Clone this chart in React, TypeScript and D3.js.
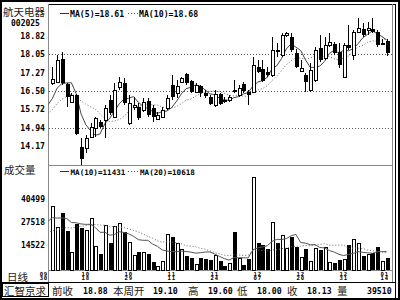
import React from "react";
import * as d3 from "d3";

const stockName = "航天电器";
const stockCode = "002025";
const volTitle = "成交量";
const periodLabel = "日线";
const brandLabel = "汇智京求";

const opens = [16.82, 16.89, 17.85, 16.79, 16.04, 16.33, 14.13, 14.06, 14.55, 14.91, 15.19, 15.26, 16.11, 15.40, 16.68, 16.82, 15.12, 15.83, 15.80, 15.69, 16.08, 15.76, 15.29, 15.40, 15.76, 16.75, 16.40, 16.89, 17.21, 16.94, 16.47, 16.71, 16.40, 16.23, 15.90, 16.37, 16.11, 16.11, 16.54, 16.33, 16.79, 16.47, 16.47, 17.50, 17.42, 17.32, 17.18, 18.24, 18.03, 18.88, 18.81, 18.10, 17.36, 17.18, 16.54, 16.96, 18.31, 17.89, 18.45, 18.48, 18.17, 17.11, 18.45, 18.03, 19.02, 19.12, 19.10, 19.15, 19.02, 18.50, 18.64];
const highs = [17.53, 18.03, 18.16, 16.85, 16.40, 16.37, 14.48, 14.62, 15.12, 15.40, 15.26, 15.90, 16.33, 16.82, 17.11, 17.04, 16.33, 16.26, 15.97, 16.18, 16.18, 15.90, 15.62, 15.80, 16.33, 17.18, 16.96, 17.11, 17.25, 16.96, 16.85, 16.75, 16.54, 16.33, 16.54, 16.43, 16.26, 16.33, 16.96, 16.75, 16.89, 16.54, 17.96, 17.82, 17.82, 17.53, 18.81, 18.53, 18.95, 19.02, 18.95, 18.27, 17.82, 17.25, 17.67, 18.38, 18.88, 18.81, 18.95, 18.60, 18.53, 18.53, 19.31, 19.09, 19.59, 19.38, 19.45, 19.60, 19.10, 18.70, 18.70];
const lows = [16.75, 16.82, 16.75, 15.83, 15.97, 14.62, 13.35, 13.86, 14.48, 14.55, 14.91, 14.48, 15.48, 15.33, 16.54, 15.90, 15.05, 15.69, 15.26, 15.62, 15.40, 15.19, 15.26, 15.33, 15.69, 16.11, 16.18, 16.82, 16.75, 16.40, 16.40, 16.26, 16.18, 15.90, 15.83, 15.90, 15.97, 16.04, 16.40, 16.23, 16.40, 15.90, 16.40, 17.25, 16.89, 17.11, 17.11, 17.96, 17.96, 18.81, 18.17, 17.46, 17.32, 16.47, 16.47, 16.89, 17.75, 17.82, 18.38, 18.03, 17.46, 17.04, 18.24, 17.82, 18.95, 18.81, 18.90, 18.95, 18.38, 18.45, 18.00];
const closes = [17.01, 17.82, 16.82, 16.26, 16.33, 14.67, 13.59, 14.48, 14.98, 15.33, 14.98, 15.79, 15.55, 16.54, 16.89, 16.00, 15.97, 15.90, 15.33, 16.04, 15.48, 15.40, 15.48, 15.69, 16.18, 16.23, 16.71, 17.04, 16.82, 16.47, 16.75, 16.40, 16.28, 15.94, 16.37, 15.94, 16.04, 16.23, 16.47, 16.61, 16.51, 16.33, 17.60, 17.32, 16.94, 17.18, 18.24, 18.17, 18.88, 18.98, 18.24, 17.53, 17.46, 16.89, 17.39, 18.24, 17.82, 18.45, 18.57, 18.10, 17.60, 18.45, 18.31, 19.02, 19.16, 18.88, 19.18, 19.02, 18.45, 18.55, 18.13];
const volumes = [36800, 24900, 32500, 22400, 10700, 26200, 24000, 23000, 29600, 14100, 9200, 25800, 15800, 25500, 27200, 21700, 16400, 8800, 10700, 10300, 9200, 4700, 2700, 5400, 20600, 18900, 15500, 12200, 8200, 6900, 3500, 7300, 6400, 6000, 8800, 5400, 2700, 4000, 21700, 6900, 3100, 6400, 53300, 15800, 14500, 12000, 27700, 15800, 20200, 12600, 19200, 13500, 7500, 12200, 5600, 12600, 11600, 13200, 5000, 4400, 6000, 6500, 14500, 17700, 15800, 8200, 9400, 10200, 13200, 5200, 7000];

// history before the first visible day (for the moving averages)
const prevCloses = [15.25, 15.2, 15.05, 15.1, 15.3, 15.55, 15.6, 15.85, 16.1, 16.3];
const prevVolumes = [15000, 14000, 16500, 13000, 15500, 17000, 14500, 16000, 15000, 16500, 14000, 27000, 31000, 26500, 33000, 28000, 30500, 25500, 29000, 32500];

const priceTicks = [18.82, 18.05, 17.27, 16.5, 15.72, 14.94, 14.17];
const priceGrid = [18.05, 16.5, 14.94];
const volTicks = [40499, 27518, 14522];

const dateIdx = [0, 7, 16, 25, 34, 43, 52, 61, 70];
const dateTop = ["09", "10", "10", "11", "11", "12", "12", "12", "01"];
const dateBot = ["30", "18", "29", "11", "24", "07", "20", "31", "14"];

const priceLegendNames = ["MA(5)", "MA(10)"];
const priceLegendValues = ["18.61", "18.68"];
const volLegendNames = ["MA(10)", "MA(20)"];
const volLegendValues = ["11431", "10618"];

const infoLabels = ["前收", "本周开", "高", "低", "收", "量"];
const infoValues = ["18.88", "19.10", "19.60", "18.00", "18.13", "39510"];

const MONO = "'DejaVu Sans Mono', monospace";
const CJK = "'Noto Sans CJK SC', sans-serif";

function movingAvg(series: number[], prev: number[], k: number): [number, number][] {
  const all = prev.concat(series);
  const out: [number, number][] = [];
  for (let i = -1; i < series.length; i++) {
    const end = i + prev.length + 1;
    out.push([i, d3.mean(all.slice(end - k, end)) as number]);
  }
  return out;
}

export default function App() {
  const W = 400, H = 300;
  const plotL = 48, plotR = 392;
  const priceTop = 4, priceBot = 165, volBot = 270.5;
  const n = closes.length;

  const x = d3.scaleLinear().domain([0, n - 1]).range([52.3, 386.7]);
  const yP = d3.scaleLinear().domain([priceTicks[6], priceTicks[0]]).range([145.7, 36.4]);
  const yV = d3.scaleLinear().domain([0, volTicks[0]]).range([volBot, 199.2]);

  const ma5 = movingAvg(closes, prevCloses, 5);
  const ma10 = movingAvg(closes, prevCloses, 10);
  const vma10 = movingAvg(volumes, prevVolumes, 10);
  const vma20 = movingAvg(volumes, prevVolumes, 20);

  const lineP = d3.line<[number, number]>().x((d) => x(d[0])).y((d) => yP(d[1]));
  const lineV = d3.line<[number, number]>().x((d) => x(d[0])).y((d) => yV(d[1]));

  const infoLabelX = [52, 113, 188, 237, 287, 337];
  const infoValueX = [83, 153, 208, 257, 307, 367];

  return (
    <svg width={W} height={H} style={{ display: "block", position: "absolute", left: 0, top: 0 }}>
      <defs>
        <clipPath id="cp-price">
          <rect x={plotL + 0.5} y={priceTop} width={plotR - plotL - 0.5} height={priceBot - priceTop} />
        </clipPath>
        <clipPath id="cp-vol">
          <rect x={plotL + 0.5} y={priceBot + 1} width={plotR - plotL - 0.5} height={volBot - priceBot - 1} />
        </clipPath>
      </defs>
      <rect x={0} y={0} width={W} height={H} fill="#fff" />

      {/* frame */}
      <rect x={0} y={0} width={W} height={2} fill="#000" />
      <rect x={0} y={0} width={2} height={H} fill="#000" />
      <rect x={0} y={298} width={W} height={2} fill="#000" />
      <rect x={398} y={0} width={2} height={H} fill="#000" />
      <line x1={plotL} x2={395.5} y1={4.5} y2={4.5} stroke="#000" />
      <line x1={395.5} x2={395.5} y1={4} y2={298} stroke="#000" />
      <line x1={plotR + 0.5} x2={plotR + 0.5} y1={4} y2={282} stroke="#888" />
      <line x1={plotL + 0.5} x2={plotL + 0.5} y1={4} y2={282} stroke="#888" />
      <line x1={plotL} x2={plotR} y1={priceBot + 0.5} y2={priceBot + 0.5} stroke="#888" />
      <line x1={plotL} x2={plotR} y1={volBot} y2={volBot} stroke="#888" />
      <line x1={0} x2={395.5} y1={282.5} y2={282.5} stroke="#000" />

      {/* title */}
      <text x={3} y={16} fontFamily={CJK} fontSize={10.5} fill="#222">{stockName}</text>
      <text x={11} y={25.5} fontFamily={MONO} fontWeight="bold" fontSize={8} fill="#000">{stockCode}</text>

      {/* price axis */}
      {priceTicks.map((t) => (
        <text key={t} x={45} y={yP(t) + 3} textAnchor="end" fontFamily={MONO} fontWeight="bold" fontSize={8.2} fill="#000">
          {t.toFixed(2)}
        </text>
      ))}
      {priceGrid.map((t) => (
        <line key={t} x1={plotL + 1} x2={plotR} y1={Math.round(yP(t)) + 0.5} y2={Math.round(yP(t)) + 0.5}
          stroke="#555" strokeDasharray="1,2" />
      ))}

      {/* price legend */}
      <line x1={60} x2={69} y1={13.5} y2={13.5} stroke="#333" />
      <text x={70} y={16.5} fontFamily={MONO} fontWeight="bold" fontSize={8.2} fill="#000">
        {priceLegendNames[0] + "=" + priceLegendValues[0]}
      </text>
      <line x1={128} x2={138} y1={13.5} y2={13.5} stroke="#555" strokeDasharray="1,2" />
      <text x={139} y={16.5} fontFamily={MONO} fontWeight="bold" fontSize={8.2} fill="#000">
        {priceLegendNames[1] + "=" + priceLegendValues[1]}
      </text>

      {/* MA lines price */}
      <g clipPath="url(#cp-price)" fill="none">
        <path d={lineP(ma10) || ""} stroke="#666" strokeDasharray="1,2" />
        <path d={lineP(ma5) || ""} stroke="#444" />
      </g>

      {/* candles */}
      <g shapeRendering="crispEdges">
        {closes.map((c, i) => {
          const o = opens[i];
          const cx = Math.round(x(i));
          const up = c >= o;
          const top = Math.round(yP(Math.max(o, c)));
          const bot = Math.round(yP(Math.min(o, c)));
          return (
            <g key={i}>
              <line x1={cx + 0.5} x2={cx + 0.5} y1={yP(highs[i])} y2={yP(lows[i])} stroke="#000" />
              {up ? (
                <rect x={cx - 0.5} y={top + 0.5} width={3} height={Math.max(1, bot - top)} fill="#fff" stroke="#000" />
              ) : (
                <rect x={cx - 1} y={top} width={4} height={Math.max(1, bot - top)} fill="#000" />
              )}
            </g>
          );
        })}
      </g>

      {/* volume panel */}
      <text x={4} y={174} fontFamily={CJK} fontSize={10.5} fill="#222">{volTitle}</text>
      {volTicks.map((t) => (
        <text key={t} x={45} y={yV(t) + 3} textAnchor="end" fontFamily={MONO} fontWeight="bold" fontSize={8} fill="#000">
          {t}
        </text>
      ))}
      <line x1={60} x2={69} y1={171.5} y2={171.5} stroke="#333" />
      <text x={70.5} y={174.5} fontFamily={MONO} fontWeight="bold" fontSize={7.6} fill="#000">
        {volLegendNames[0] + "=" + volLegendValues[0]}
      </text>
      <line x1={128} x2={139} y1={171.5} y2={171.5} stroke="#555" strokeDasharray="1,2" />
      <text x={140} y={174.5} fontFamily={MONO} fontWeight="bold" fontSize={7.6} fill="#000">
        {volLegendNames[1] + "=" + volLegendValues[1]}
      </text>

      <g shapeRendering="crispEdges">
        {volumes.map((v, i) => {
          const cx = Math.round(x(i));
          const up = closes[i] >= opens[i];
          const top = Math.round(yV(v));
          const base = Math.floor(volBot);
          return up ? (
            <rect key={i} x={cx - 0.5} y={top + 0.5} width={3} height={base - top} fill="#fff" stroke="#000" />
          ) : (
            <rect key={i} x={cx - 1} y={top} width={4} height={base - top} fill="#000" />
          );
        })}
      </g>
      <g clipPath="url(#cp-vol)" fill="none">
        <path d={lineV(vma20) || ""} stroke="#666" strokeDasharray="1,2" />
        <path d={lineV(vma10) || ""} stroke="#555" />
      </g>

      {/* dates: month over day, one text per label */}
      <text x={7} y={281} fontFamily={CJK} fontSize={10.5} fill="#222">{periodLabel}</text>
      {dateIdx.map((di, k) => {
        const first = k === 0;
        const last = k === dateIdx.length - 1;
        const px = first ? plotL : last ? x(di) - 2 : x(di);
        const anchor = first ? "end" : "middle";
        return (
          <text key={di} fontFamily={MONO} fontWeight="bold" fontSize={5.6} fill="#000" textAnchor={anchor} letterSpacing={0.8}>
            <tspan x={px} y={275.5}>{dateTop[k]}</tspan>
            <tspan x={px} dy={4.6}>{dateBot[k]}</tspan>
          </text>
        );
      })}

      {/* info bar */}
      <rect x={2.5} y={283.5} width={46} height={13} fill="none" stroke="#000" />
      <text x={4} y={294.5} fontFamily={CJK} fontSize={10.5} fill="#222">{brandLabel}</text>
      {infoLabels.map((l, k) => (
        <text key={l} x={infoLabelX[k]} y={294.5} fontFamily={CJK} fontSize={10.5} fill="#222">{l}</text>
      ))}
      {infoValues.map((v, k) => (
        <text key={k} x={infoValueX[k]} y={294} fontFamily={MONO} fontWeight="bold" fontSize={8.2} fill="#000">{v}</text>
      ))}
    </svg>
  );
}
